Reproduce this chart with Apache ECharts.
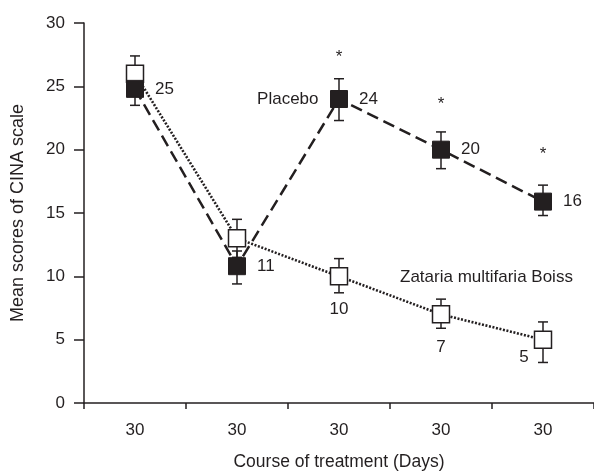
<!DOCTYPE html>
<html><head><meta charset="utf-8">
<script src="https://cdn.jsdelivr.net/npm/echarts@6/dist/echarts.min.js"></script>
<style>html,body{margin:0;padding:0;background:#fff}#c{width:594px;height:476px}</style>
</head><body><div id="c"></div>
<script>
var categories = ['30', '30', '30', '30', '30'];
var yTicks = [0, 5, 10, 15, 20, 25, 30];
var placebo = [24.8, 10.8, 24.0, 20.0, 15.9];
var placeboLow = [23.5, 9.4, 22.3, 18.5, 14.8];
var placeboHigh = [25.9, 12.0, 25.6, 21.4, 17.2];
var zataria = [26.0, 13.0, 10.0, 7.0, 5.0];
var zatariaLow = [24.8, 11.5, 8.7, 5.9, 3.2];
var zatariaHigh = [27.4, 14.5, 11.4, 8.2, 6.4];
var placeboLabels = ['25', '11', '24', '20', '16'];
var zatariaLabels = ['', '', '10', '7', '5'];
var asterisks = ['-', '-', 27.3, 23.6, 19.6];

var FONT = 'Liberation Sans';
var INK = '#231f20';
var FS = 17;

function errData(low, high) {
  return low.map(function (l, i) { return [i, l, high[i]]; });
}
function errRender(params, api) {
  var x = api.value(0);
  var p1 = api.coord([x, api.value(1)]);
  var p2 = api.coord([x, api.value(2)]);
  var hw = 5;
  var st = { stroke: INK, lineWidth: 1.5 };
  return {
    type: 'group',
    children: [
      { type: 'line', shape: { x1: p1[0], y1: p1[1], x2: p2[0], y2: p2[1] }, style: st },
      { type: 'line', shape: { x1: p1[0] - hw, y1: p1[1], x2: p1[0] + hw, y2: p1[1] }, style: st },
      { type: 'line', shape: { x1: p2[0] - hw, y1: p2[1], x2: p2[0] + hw, y2: p2[1] }, style: st }
    ]
  };
}

var chart = echarts.init(document.getElementById('c'), null, { renderer: 'canvas' });
chart.setOption({
  animation: false,
  backgroundColor: '#fff',
  textStyle: { fontFamily: FONT },
  grid: { left: 84, right: 0, top: 23, bottom: 71 },
  xAxis: {
    type: 'category',
    data: categories,
    boundaryGap: true,
    name: 'Course of treatment (Days)',
    nameLocation: 'middle',
    nameGap: 50,
    nameTextStyle: { fontSize: 17.5, color: INK, fontFamily: FONT },
    axisLine: { lineStyle: { color: INK, width: 1.5 } },
    axisTick: { show: true, length: 6, lineStyle: { color: INK, width: 1.5 } },
    axisLabel: { fontSize: FS, color: INK, margin: 19, fontFamily: FONT },
    splitLine: { show: false }
  },
  yAxis: {
    type: 'value',
    min: 0, max: 30, interval: 5,
    name: 'Mean scores of CINA scale',
    nameLocation: 'middle',
    nameGap: 57,
    nameTextStyle: { fontSize: 18, color: INK, fontFamily: FONT },
    axisLine: { show: true, lineStyle: { color: INK, width: 1.5 } },
    axisTick: { show: true, length: 10, lineStyle: { color: INK, width: 1.5 } },
    axisLabel: { fontSize: FS, color: INK, margin: 19, fontFamily: FONT,
      formatter: function (v) { return yTicks.indexOf(v) >= 0 ? String(v) : ''; } },
    splitLine: { show: false }
  },
  series: [
    { type: 'custom', renderItem: errRender, data: errData(zatariaLow, zatariaHigh), z: 1, silent: true },
    { type: 'custom', renderItem: errRender, data: errData(placeboLow, placeboHigh), z: 1, silent: true },
    {
      name: 'Zataria multifaria Boiss', type: 'line', data: zataria.map(function (v, i) {
        var lab = zatariaLabels[i];
        var item = { value: v };
        if (!lab) item.label = { show: false };
        else if (i === 4) item.label = { show: true, position: 'left', distance: 5, offset: [0, 18], formatter: lab };
        else item.label = { show: true, position: 'bottom', distance: 15, formatter: lab };
        return item;
      }),
      symbol: 'rect', symbolSize: 17, z: 3,
      itemStyle: { color: '#fff', borderColor: INK, borderWidth: 1.5 },
      lineStyle: { color: INK, width: 2.6, type: [2, 1.6] },
      label: { fontSize: FS, color: INK, fontFamily: FONT }
    },
    {
      name: 'Placebo', type: 'line', data: placebo.map(function (v, i) {
        return { value: v, label: { show: true, position: 'right', distance: 11, formatter: placeboLabels[i] } };
      }),
      symbol: 'rect', symbolSize: 17, z: 4,
      itemStyle: { color: INK, borderColor: INK, borderWidth: 1 },
      lineStyle: { color: INK, width: 2.5, type: [12, 6] },
      label: { fontSize: FS, color: INK, fontFamily: FONT }
    },
    {
      type: 'scatter', data: placebo.map(function (v, i) { return i === 2 ? v : '-'; }),
      symbol: 'circle', symbolSize: 17, z: 5, silent: true,
      itemStyle: { color: 'rgba(0,0,0,0)', opacity: 1 },
      label: { show: true, position: 'left', distance: 12, formatter: 'Placebo', fontSize: FS, color: INK, fontFamily: FONT }
    },
    {
      type: 'scatter', data: asterisks, symbol: 'circle', symbolSize: 2, z: 5, silent: true,
      itemStyle: { color: 'rgba(0,0,0,0)', opacity: 1 },
      label: { show: true, position: 'inside', formatter: '*', fontSize: 17, color: INK, fontFamily: FONT }
    }
  ],
  graphic: [
    { type: 'text', left: 400, top: 269, style: { text: 'Zataria multifaria Boiss', font: FS + 'px "Liberation Sans"', fill: INK } }
  ]
});
</script></body></html>
